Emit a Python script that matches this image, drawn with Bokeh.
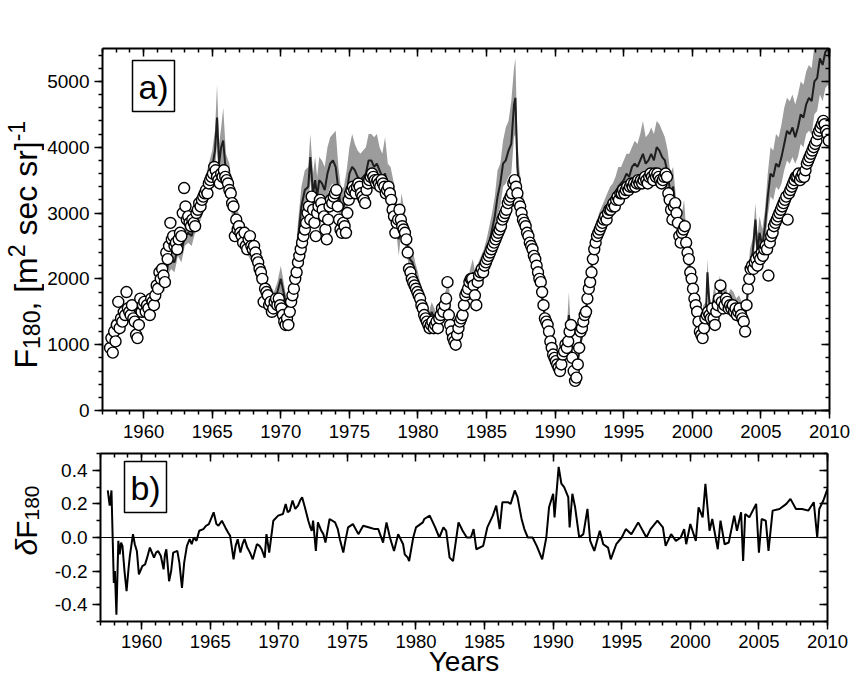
import numpy as np
from bokeh.plotting import figure
from bokeh.layouts import column, row
from bokeh.models import (LinearAxis, SingleIntervalTicker, Range1d, Label, Span,
                          CustomJSTickFormatter, BoxAnnotation)
from bokeh.embed import file_html
from bokeh.resources import INLINE

FONT = "Liberation Sans"

# ---------------- data: observed flux (open circles), sampled every 0.1 yr from 1957.55
obs_start = 1957.55
obs_step = 0.1
obs_flux = [
    950, 1100, 880, 1200, 1050,                                   # 1957
    1300, 1650, 1250, 1400, 1350, 1500, 1450, 1800, 1550, 1500,   # 1958
    1450, 1600, 1400, 1350, 1150, 1100, 1300, 1700, 1500, 1600,   # 1959
    1650, 1500, 1600, 1550, 1450, 1700, 1650, 1600, 1750, 1900,   # 1960
    1850, 2100, 2000, 2150, 2050, 1950, 2400, 2300, 2500, 2850,   # 1961
    2600, 2650, 2500, 2550, 2450, 2600, 2700, 2650, 3000, 3380,   # 1962
    3100, 2900, 2950, 2850, 2800, 2900, 2850, 2800, 3000, 3050,   # 1963
    3150, 3100, 3200, 3250, 3300, 3350, 3300, 3450, 3500, 3550,   # 1964
    3600, 3700, 3650, 3550, 3500, 3450, 3600, 3550, 3650, 3550,   # 1965
    3500, 3450, 3350, 3300, 3150, 3100, 2650, 2900, 2750, 2800,   # 1966
    2700, 2650, 2550, 2700, 2500, 2450, 2600, 2650, 2500, 2450,   # 1967
    2500, 2400, 2300, 2250, 2150, 2100, 2000, 1650, 1850, 1800,   # 1968
    1750, 1600, 1650, 1500, 1550, 1650, 1700, 1600, 1700, 1600,   # 1969
    1550, 1450, 1350, 1300, 1400, 1300, 1500, 1650, 1750, 1850,   # 1970
    2000, 2100, 2250, 2350, 2450, 2550, 2650, 2750, 2850, 3000,   # 1971
    3100, 2900, 3250, 3050, 2850, 2650, 3000, 3100, 3200, 3150,   # 1972
    3050, 2950, 2750, 2600, 2900, 3100, 3200, 3150, 3250, 3300,   # 1973
    3350, 3100, 2900, 2750, 2700, 2850, 2800, 2700, 3000, 3200,   # 1974
    3300, 3350, 3400, 3350, 3300, 3400, 3450, 3400, 3300, 3250,   # 1975
    3200, 3150, 3350, 3450, 3500, 3550, 3600, 3550, 3500, 3450,   # 1976
    3500, 3450, 3400, 3500, 3450, 3400, 3300, 3350, 3400, 3300,   # 1977
    3200, 3050, 2950, 2700, 2850, 2900, 3050, 2900, 2800, 2750,   # 1978
    2700, 2600, 2400, 2150, 2100, 2000, 1950, 1900, 1850, 1800,   # 1979
    1750, 1700, 1600, 1550, 1450, 1400, 1350, 1300, 1250, 1300,   # 1980
    1350, 1250, 1300, 1350, 1250, 1400, 1450, 1550, 1500, 1600,   # 1981
    1700, 1950, 1450, 1300, 1200, 1100, 1050, 1000, 1150, 1250,   # 1982
    1350, 1400, 1450, 1600, 1750, 1800, 1850, 1950, 2000, 2000,   # 1983
    1900, 1750, 1600, 1950, 2050, 2100, 2150, 2100, 2200, 2250,   # 1984
    2300, 2350, 2400, 2450, 2500, 2550, 2600, 2650, 2700, 2750,   # 1985
    2800, 2900, 2950, 3000, 3050, 3150, 3200, 3250, 3300, 3450,   # 1986
    3500, 3400, 3300, 3150, 3100, 3000, 2900, 2850, 2800, 2700,   # 1987
    2650, 2550, 2500, 2450, 2350, 2300, 2200, 2100, 2000, 1950,   # 1988
    1800, 1600, 1400, 1350, 1300, 1200, 1050, 950, 850, 800,      # 1989
    750, 700, 650, 600, 700, 850, 900, 1000, 950, 1050,           # 1990
    1200, 1300, 800, 600, 450, 500, 700, 950, 1200, 1250,         # 1991
    1350, 1450, 1500, 1700, 1850, 1950, 2100, 2300, 2450, 2550,   # 1992
    2650, 2700, 2750, 2800, 2850, 2900, 2950, 2900, 3000, 3050,   # 1993
    3050, 3100, 3150, 3100, 3200, 3250, 3200, 3300, 3300, 3350,   # 1994
    3300, 3350, 3400, 3350, 3400, 3450, 3400, 3450, 3400, 3450,   # 1995
    3500, 3450, 3500, 3450, 3500, 3550, 3500, 3450, 3550, 3600,   # 1996
    3550, 3500, 3600, 3550, 3600, 3550, 3500, 3450, 3500, 3550,   # 1997
    3600, 3550, 3300, 3200, 3050, 2900, 3100, 3150, 3000, 2850,   # 1998
    2650, 2550, 2700, 2750, 2800, 2550, 2400, 2300, 2100, 2000,   # 1999
    1850, 1700, 1600, 1500, 1350, 1200, 1150, 1100, 1250, 1400,   # 2000
    1450, 1500, 1450, 1400, 1550, 1400, 1300, 1500, 1600, 1700,   # 2001
    1900, 1650, 1550, 1600, 1700, 1650, 1550, 1600, 1550, 1600,   # 2002
    1500, 1550, 1450, 1500, 1550, 1450, 1400, 1350, 1200, 1600,   # 2003
    1850, 2000, 2150, 2200, 2150, 2250, 2300, 2200, 2350, 2300,   # 2004
    2400, 2350, 2450, 2500, 2450, 2050, 2550, 2650, 2700, 2800,   # 2005
    2850, 2900, 2950, 3000, 3050, 3100, 3150, 3200, 3250, 2900,   # 2006
    3300, 3350, 3400, 3450, 3500, 3550, 3550, 3600, 3500, 3550,   # 2007
    3600, 3550, 3650, 3750, 3800, 3850, 3900, 3950, 4000, 4050,   # 2008
    4100, 4200, 4250, 4300, 4350, 4400, 4350, 4250, 4200, 4100,   # 2009
]
obs_years = [round(obs_start + obs_step * i, 2) for i in range(len(obs_flux))]

# ---------------- data: model flux (dark line) and its uncertainty band (grey)
model_years = [
    1957.5, 1957.75, 1958.0, 1958.25, 1958.5, 1958.75, 1959.0, 1959.25, 1959.5, 1959.75,
    1960.0, 1960.25, 1960.5, 1960.75, 1961.0, 1961.25, 1961.5, 1961.75, 1962.0, 1962.25,
    1962.5, 1962.75, 1963.0, 1963.25, 1963.5, 1963.75, 1964.0, 1964.25, 1964.5, 1964.75,
    1965.0, 1965.2, 1965.35, 1965.5, 1965.65, 1965.8, 1966.0, 1966.25, 1966.5, 1966.75,
    1967.0, 1967.25, 1967.5, 1967.75, 1968.0, 1968.25, 1968.5, 1968.75, 1969.0, 1969.25,
    1969.5, 1969.75, 1970.0, 1970.25, 1970.5, 1970.75, 1971.0, 1971.25, 1971.5, 1971.75,
    1972.0, 1972.15, 1972.35, 1972.5, 1972.65, 1972.8, 1973.0, 1973.2, 1973.4, 1973.6,
    1973.8, 1974.0, 1974.2, 1974.4, 1974.6, 1974.8, 1975.0, 1975.2, 1975.4, 1975.6,
    1975.8, 1976.0, 1976.2, 1976.4, 1976.6, 1976.8, 1977.0, 1977.2, 1977.4, 1977.6,
    1977.8, 1978.0, 1978.2, 1978.4, 1978.6, 1978.8, 1979.0, 1979.2, 1979.4, 1979.6,
    1979.8, 1980.0, 1980.2, 1980.4, 1980.6, 1980.8, 1981.0, 1981.2, 1981.4, 1981.6,
    1981.8, 1982.0, 1982.2, 1982.4, 1982.6, 1982.8, 1983.0, 1983.2, 1983.4, 1983.6,
    1983.8, 1984.0, 1984.2, 1984.4, 1984.6, 1984.8, 1985.0, 1985.2, 1985.4, 1985.6,
    1985.8, 1986.0, 1986.2, 1986.4, 1986.6, 1986.8, 1987.0, 1987.1, 1987.25, 1987.4,
    1987.6, 1987.8, 1988.0, 1988.2, 1988.4, 1988.6, 1988.8, 1989.0, 1989.2, 1989.4,
    1989.6, 1989.8, 1990.0, 1990.2, 1990.4, 1990.6, 1990.8, 1991.0, 1991.2, 1991.4,
    1991.6, 1991.8, 1992.0, 1992.2, 1992.4, 1992.6, 1992.8, 1993.0, 1993.2, 1993.4,
    1993.6, 1993.8, 1994.0, 1994.2, 1994.4, 1994.6, 1994.8, 1995.0, 1995.2, 1995.4,
    1995.6, 1995.8, 1996.0, 1996.2, 1996.4, 1996.6, 1996.8, 1997.0, 1997.2, 1997.4,
    1997.6, 1997.8, 1998.0, 1998.2, 1998.4, 1998.6, 1998.8, 1999.0, 1999.2, 1999.4,
    1999.6, 1999.8, 2000.0, 2000.2, 2000.4, 2000.6, 2000.8, 2001.0, 2001.1, 2001.25,
    2001.4, 2001.6, 2001.8, 2002.0, 2002.2, 2002.4, 2002.6, 2002.8, 2003.0, 2003.2,
    2003.4, 2003.6, 2003.8, 2004.0, 2004.2, 2004.4, 2004.6, 2004.75, 2004.9, 2005.1,
    2005.3, 2005.5, 2005.7, 2005.9, 2006.1, 2006.3, 2006.5, 2006.7, 2006.9, 2007.1,
    2007.3, 2007.5, 2007.7, 2007.9, 2008.1, 2008.3, 2008.5, 2008.7, 2008.9, 2009.1,
    2009.3, 2009.5, 2009.7, 2009.9, 2010.0,
]
model_flux = [
    1150, 1300, 1250, 1450, 1350, 1550, 1500, 1600, 1300, 1550,
    1500, 1650, 1550, 1700, 1800, 2000, 1900, 2200, 2300, 2250,
    2500, 2400, 2650, 2700, 2650, 2850, 3000, 3150, 3350, 3500,
    3700, 3950, 4450, 3750, 4000, 4100, 3600, 3500, 3100, 2900,
    2750, 2600, 2600, 2500, 2450, 2250, 2150, 2000, 1800, 1750,
    1650, 1800, 2000, 1750, 1450, 1650, 2000, 2600, 3100, 3350,
    3400, 3850, 3300, 3500, 3250, 3500, 3450, 3350, 3600, 3750,
    3800, 3700, 3350, 3050, 3100, 3300, 3600, 3700, 3650, 3550,
    3500, 3550, 3600, 3800, 3800, 3700, 3750, 3650, 3550, 3600,
    3400, 3350, 3200, 3000, 2600, 3000, 2800, 2550, 2300, 2250,
    2050, 1900, 1750, 1600, 1450, 1350, 1500, 1400, 1300, 1450,
    1550, 1650, 1500, 1400, 1150, 1050, 1250, 1400, 1600, 1800,
    1950, 2100, 1900, 2050, 2150, 2250, 2400, 2550, 2750, 2950,
    3250, 3450, 3750, 3800, 3950, 4050, 4650, 4750, 3700, 3300,
    3050, 2850, 2700, 2550, 2350, 2150, 2000, 1800, 1500, 1200,
    1050, 900, 850, 700, 650, 850, 950, 1450, 900, 600,
    700, 950, 1200, 1450, 1750, 2100, 2400, 2650, 2800, 2900,
    3000, 3100, 3200, 3250, 3300, 3400, 3450, 3500, 3600, 3550,
    3700, 3750, 3700, 3800, 3900, 3750, 3800, 3900, 3800, 4000,
    3950, 3850, 3800, 3600, 3300, 3400, 3000, 2800, 2700, 2900,
    2400, 2200, 1900, 1600, 1350, 1200, 1450, 1500, 2100, 1600,
    1450, 1750, 1550, 1900, 1700, 1800, 1600, 1700, 1650, 1550,
    1600, 1500, 1350, 1700, 2250, 2400, 2900, 2400, 2700, 2500,
    2800, 3250, 3600, 3550, 3750, 3700, 3850, 4050, 4250, 4200,
    4300, 4150, 4300, 4500, 4450, 4650, 4750, 4700, 5000, 5050,
    5350, 5250, 5450, 5500, 5350,
]
band_low = [
    1050, 1200, 1150, 1350, 1250, 1450, 1400, 1500, 1200, 1450,
    1400, 1550, 1450, 1600, 1700, 1900, 1800, 2050, 2150, 2100,
    2350, 2250, 2500, 2550, 2500, 2700, 2800, 2950, 3100, 3250,
    3400, 3650, 4050, 3450, 3650, 3750, 3300, 3250, 2850, 2650,
    2500, 2400, 2400, 2300, 2250, 2050, 1950, 1800, 1650, 1600,
    1500, 1650, 1800, 1600, 1350, 1500, 1800, 2350, 2800, 3050,
    3100, 3500, 3000, 3150, 2950, 3150, 3100, 3000, 3250, 3400,
    3450, 3350, 3050, 2800, 2850, 3000, 3250, 3350, 3300, 3200,
    3200, 3250, 3300, 3450, 3450, 3400, 3400, 3350, 3250, 3250,
    3100, 3050, 2900, 2750, 2350, 2750, 2550, 2350, 2100, 2050,
    1850, 1750, 1600, 1450, 1300, 1250, 1350, 1300, 1200, 1300,
    1400, 1500, 1400, 1300, 1050, 950, 1150, 1300, 1450, 1650,
    1800, 1950, 1750, 1900, 2000, 2050, 2200, 2350, 2500, 2700,
    2950, 3100, 3400, 3450, 3550, 3600, 4150, 4200, 3350, 3000,
    2800, 2600, 2450, 2350, 2150, 2000, 1850, 1650, 1400, 1100,
    950, 800, 750, 600, 550, 750, 850, 1300, 800, 500,
    600, 850, 1100, 1350, 1600, 1950, 2250, 2450, 2600, 2700,
    2800, 2900, 2950, 3000, 3050, 3150, 3200, 3250, 3300, 3250,
    3400, 3400, 3400, 3450, 3500, 3400, 3450, 3500, 3450, 3600,
    3550, 3500, 3450, 3300, 3050, 3100, 2750, 2600, 2500, 2650,
    2200, 2050, 1750, 1450, 1250, 1100, 1350, 1400, 1900, 1450,
    1350, 1600, 1450, 1750, 1550, 1650, 1500, 1550, 1500, 1450,
    1450, 1400, 1250, 1550, 2050, 2200, 2600, 2200, 2450, 2300,
    2550, 2950, 3250, 3200, 3400, 3350, 3450, 3650, 3800, 3750,
    3850, 3750, 3850, 4050, 4000, 4200, 4250, 4200, 4500, 4550,
    4800, 4700, 4900, 4950, 4800,
]
band_high = [
    1250, 1400, 1350, 1550, 1450, 1650, 1600, 1700, 1400, 1650,
    1600, 1750, 1650, 1800, 1900, 2100, 2000, 2350, 2450, 2400,
    2650, 2550, 2800, 2850, 2800, 3000, 3200, 3350, 3550, 3750,
    3950, 4250, 4950, 4050, 4300, 4600, 3900, 3750, 3350, 3100,
    2950, 2800, 2800, 2700, 2650, 2450, 2300, 2150, 1950, 1900,
    1800, 1950, 2200, 1900, 1600, 1800, 2200, 2850, 3400, 3650,
    3700, 4200, 3600, 3850, 3550, 3850, 3800, 3700, 4000, 4150,
    4200, 4250, 3700, 3350, 3400, 3650, 4000, 4200, 4050, 3950,
    3900, 3950, 4000, 4200, 4200, 4150, 4200, 4000, 3900, 4150,
    3750, 3700, 3500, 3300, 2850, 3300, 3050, 2800, 2500, 2450,
    2250, 2100, 1900, 1750, 1600, 1500, 1650, 1550, 1450, 1600,
    1700, 1800, 2050, 1550, 1250, 1150, 1400, 1550, 1750, 1950,
    2150, 2300, 2050, 2250, 2350, 2450, 2600, 2800, 3000, 3250,
    3650, 3750, 4100, 4300, 4400, 4700, 5200, 5350, 4100, 3650,
    3350, 3100, 2950, 2800, 2550, 2350, 2150, 1950, 1650, 1300,
    1150, 1000, 950, 800, 750, 950, 1050, 1800, 1000, 700,
    800, 1050, 1300, 1600, 1900, 2250, 2600, 2850, 3000, 3100,
    3200, 3300, 3400, 3450, 3550, 3700, 3700, 3800, 3900, 3900,
    4000, 4100, 4050, 4200, 4400, 4150, 4200, 4300, 4200, 4400,
    4350, 4250, 4150, 3950, 3600, 3700, 3250, 3050, 2950, 3200,
    2600, 2400, 2050, 1750, 1450, 1300, 1600, 1650, 2300, 1750,
    1600, 1900, 1700, 2050, 1850, 1950, 1750, 1850, 1800, 1700,
    1750, 1650, 1450, 1850, 2450, 2600, 3150, 2650, 2950, 2750,
    3050, 3600, 4000, 3950, 4200, 4150, 4350, 4600, 4750, 4700,
    4800, 4650, 4800, 5000, 4950, 5150, 5250, 5200, 5550, 5600,
    5900, 5800, 6000, 6100, 5900,
]

# ---------------- data: relative difference (panel b)
delta_years = [
    1957.53, 1957.67, 1957.80, 1957.97, 1958.05, 1958.16, 1958.30, 1958.40, 1958.50, 1958.60,
    1958.75, 1958.90, 1959.05, 1959.14, 1959.37, 1959.50, 1959.65, 1959.80, 1960.05, 1960.25,
    1960.40, 1960.60, 1960.75, 1960.90, 1961.05, 1961.20, 1961.40, 1961.60, 1961.70, 1961.80,
    1962.00, 1962.15, 1962.30, 1962.60, 1962.75, 1962.94, 1963.10, 1963.30, 1963.50, 1963.65,
    1963.80, 1964.00, 1964.20, 1964.50, 1964.70, 1964.90, 1965.10, 1965.25, 1965.45, 1965.60,
    1965.85, 1966.10, 1966.30, 1966.45, 1966.70, 1966.85, 1967.00, 1967.20, 1967.35, 1967.50,
    1967.70, 1967.90, 1968.10, 1968.40, 1968.60, 1968.75, 1968.97, 1969.10, 1969.30, 1969.60,
    1969.95, 1970.30, 1970.50, 1970.65, 1970.80, 1971.00, 1971.20, 1971.40, 1971.55, 1971.70,
    1971.90, 1972.15, 1972.30, 1972.40, 1972.50, 1972.70, 1972.85, 1973.10, 1973.25, 1973.40,
    1973.70, 1974.10, 1974.30, 1974.45, 1974.70, 1974.85, 1975.05, 1975.40, 1975.80, 1976.15,
    1976.60, 1977.00, 1977.25, 1977.60, 1977.85, 1978.10, 1978.40, 1978.70, 1978.82, 1979.06,
    1979.18, 1979.40, 1979.50, 1979.80, 1980.00, 1980.50, 1980.60, 1981.00, 1981.40, 1981.70,
    1982.00, 1982.20, 1982.45, 1982.70, 1983.10, 1983.40, 1983.70, 1984.00, 1984.20, 1984.40,
    1984.90, 1985.20, 1985.60, 1985.85, 1986.10, 1986.30, 1986.70, 1986.90, 1987.20, 1987.40,
    1987.70, 1987.90, 1988.15, 1988.50, 1988.80, 1989.20, 1989.50, 1989.70, 1990.00, 1990.10,
    1990.40, 1990.60, 1990.80, 1991.10, 1991.20, 1991.40, 1991.60, 1991.90, 1992.20, 1992.40,
    1992.50, 1992.70, 1993.00, 1993.40, 1993.65, 1994.00, 1994.20, 1994.60, 1995.00, 1995.30,
    1995.70, 1996.20, 1996.80, 1997.10, 1997.60, 1998.00, 1998.20, 1998.60, 1998.95, 1999.30,
    1999.55, 1999.70, 2000.00, 2000.40, 2000.60, 2000.90, 2001.10, 2001.40, 2001.60, 2002.00,
    2002.20, 2002.50, 2002.80, 2003.20, 2003.40, 2003.70, 2003.85, 2004.00, 2004.30, 2004.80,
    2005.00, 2005.20, 2005.50, 2005.70, 2006.00, 2006.50, 2007.00, 2007.30, 2007.70, 2008.15,
    2008.60, 2009.00, 2009.25, 2009.40, 2009.70, 2010.00,
]
delta_flux = [
    0.28, 0.19, 0.28, -0.27, -0.20, -0.46, -0.02, -0.10, -0.03, -0.05,
    -0.20, -0.32, -0.18, -0.11, 0.02, -0.04, -0.08, -0.22, -0.17, -0.16,
    -0.12, -0.06, -0.09, -0.12, -0.09, -0.08, -0.11, -0.19, -0.10, -0.07,
    -0.26, -0.20, -0.09, -0.08, -0.15, -0.30, -0.15, -0.05, -0.01, -0.04,
    0.00, -0.02, 0.04, 0.05, 0.07, 0.08, 0.12, 0.15, 0.08, 0.07,
    0.10, 0.06, 0.03, 0.01, -0.13, -0.05, -0.01, -0.09, -0.04, -0.01,
    -0.06, -0.09, -0.13, -0.04, -0.05, -0.07, -0.12, 0.02, -0.09, 0.10,
    0.13, 0.14, 0.20, 0.15, 0.16, 0.22, 0.17, 0.19, 0.22, 0.24,
    0.18, 0.10, 0.06, 0.04, 0.10, -0.08, 0.09, 0.04, 0.02, -0.03,
    0.11, 0.09, 0.05, -0.01, -0.09, -0.02, 0.06, 0.08, 0.02, 0.07,
    0.06, 0.05, 0.05, -0.03, 0.09, 0.00, -0.08, 0.02, 0.00, -0.04,
    -0.10, -0.12, -0.14, 0.00, 0.06, 0.09, 0.11, 0.13, 0.06, 0.00,
    0.06, 0.04, -0.12, -0.14, 0.09, 0.04, 0.00, 0.00, 0.05, -0.07,
    -0.05, 0.06, 0.13, 0.19, 0.05, 0.21, 0.21, 0.20, 0.28, 0.24,
    0.11, 0.05, 0.00, 0.00, -0.05, -0.13, 0.00, 0.18, 0.26, 0.12,
    0.42, 0.32, 0.30, 0.24, 0.06, 0.26, 0.18, 0.00, 0.02, 0.12,
    0.17, -0.02, -0.08, 0.04, -0.04, -0.06, -0.13, -0.04, 0.00, 0.05,
    0.02, 0.09, 0.00, 0.05, 0.10, 0.06, -0.05, 0.02, -0.02, 0.00,
    0.05, -0.04, 0.08, -0.02, 0.18, 0.12, 0.32, 0.04, 0.11, -0.07,
    0.10, -0.04, -0.03, 0.13, 0.04, 0.15, -0.14, 0.14, 0.12, 0.20,
    -0.09, 0.11, 0.10, -0.08, 0.16, 0.17, 0.20, 0.23, 0.17, 0.17,
    0.16, 0.21, 0.00, 0.17, 0.22, 0.29,
]

# ---------------- axis titles, composed of pieces:
# (text, font px, baseline shift px (+ = subscript side), style, gap before in em)
TOP_TITLE = [("F", 32, 0, "normal", 0), ("180", 23, 3, "normal", 0),
             (", [m", 32, 0, "normal", 0), ("2", 23, -12, "normal", 0),
             ("sec sr]", 32, 0, "normal", 0.278), ("-1", 23, -12, "normal", 0)]
BOTTOM_TITLE = [("\u03b4", 30, 0, "italic", 0), ("F", 30, 0, "normal", 0),
                ("180", 21, 3, "normal", 0)]

# Arial / Liberation Sans advance widths (per 1000 em)
ADV = {"F": 611, "1": 556, "8": 556, "0": 556, ",": 278, " ": 278, "[": 278, "]": 278,
       "m": 833, "2": 556, "s": 500, "e": 556, "c": 500, "r": 333, "-": 333, "\u03b4": 556}
MID_TO_BASELINE = 0.34   # distance (em) from the middle of a text line to its baseline


def text_width(t, size):
    return sum(ADV.get(ch, 556) for ch in t) * size / 1000.0


def title_strip(width, height, pieces, baseline_x, start_above_frame_bottom, frame_top,
                frame_h):
    """Narrow axis-less canvas that carries a vertical, composed axis title.
    Its frame lines up with the neighbouring plot frame. Each piece is centred."""
    f = figure(width=width, height=height, min_border=0, min_border_top=frame_top,
               min_border_bottom=height - frame_top - frame_h,
               x_axis_type=None, y_axis_type=None,
               x_range=Range1d(0, 1), y_range=Range1d(0, 1),
               output_backend="svg", toolbar_location=None)
    f.outline_line_color = None
    f.background_fill_color = "white"
    f.border_fill_color = "white"
    along = start_above_frame_bottom
    for text, size, shift, style, gap in pieces:
        along += gap * size
        w = text_width(text, size)
        f.add_layout(Label(x=baseline_x + shift - MID_TO_BASELINE * size, y=along + w / 2,
                           x_units="screen", y_units="screen",
                           text=text, angle=np.pi / 2, text_align="center",
                           text_baseline="middle", text_font=FONT,
                           text_font_size=f"{size}px", text_font_style=style,
                           text_color="black"))
        along += w
    return f


def style_axis(ax, ticker, outward=True, standoff=5, label_size="19px"):
    ax.ticker = ticker
    ax.axis_line_width = 2
    ax.axis_line_color = "black"
    ax.major_tick_line_width = 1.5
    ax.minor_tick_line_width = 1.5
    ax.major_tick_line_color = "black"
    ax.minor_tick_line_color = "black"
    if outward:
        ax.major_tick_in, ax.major_tick_out = 0, 8
        ax.minor_tick_in, ax.minor_tick_out = 0, 4
        ax.major_label_text_font = FONT
        ax.major_label_text_font_size = label_size
        ax.major_label_text_color = "black"
        ax.major_label_standoff = standoff
    else:
        ax.major_tick_in, ax.major_tick_out = 8, 0
        ax.minor_tick_in, ax.minor_tick_out = 4, 0
        ax.major_label_text_font_size = "0px"
        ax.major_label_standoff = 0
        ax.formatter = CustomJSTickFormatter(code="return ''")


FRAME_W = 727
RIGHT_B = 23


def base_fig(yr, fh, left, top, bottom):
    p = figure(frame_width=FRAME_W, frame_height=fh, x_range=Range1d(1957, 2010), y_range=yr,
               output_backend="svg", toolbar_location=None,
               min_border_left=left, min_border_right=RIGHT_B, min_border_top=top,
               min_border_bottom=bottom)
    p.grid.visible = False
    p.outline_line_color = None
    p.background_fill_color = "white"
    p.border_fill_color = "white"
    return p


def add_mirrors(p, xt, yt):
    a = LinearAxis()
    style_axis(a, xt, outward=False)
    p.add_layout(a, "above")
    r = LinearAxis()
    style_axis(r, yt, outward=False)
    p.add_layout(r, "right")


def add_tag(p, text, left, bottom):
    p.add_layout(BoxAnnotation(left=left, right=left + 42, bottom=bottom, top=bottom + 51,
                               left_units="screen", right_units="screen",
                               bottom_units="screen", top_units="screen",
                               fill_color="white", fill_alpha=1.0,
                               line_color="black", line_alpha=1.0, line_width=1.5))
    p.add_layout(Label(x=left + 21, y=bottom + 25, x_units="screen", y_units="screen",
                       text=text, text_align="center", text_baseline="middle",
                       text_font=FONT, text_font_size="34px", text_color="black"))


STRIP_W = 44
XLABEL = "18.5px"

# ---------------- panel a
p1 = base_fig(Range1d(0, 5500), 362, 100 - STRIP_W, 48, 35)
xa1, ya1 = p1.xaxis[0], p1.yaxis[0]
style_axis(xa1, SingleIntervalTicker(interval=5, num_minor_ticks=5), standoff=6,
           label_size=XLABEL)
style_axis(ya1, SingleIntervalTicker(interval=1000, num_minor_ticks=5))
add_mirrors(p1, SingleIntervalTicker(interval=5, num_minor_ticks=5),
            SingleIntervalTicker(interval=1000, num_minor_ticks=5))

p1.varea(x=model_years, y1=band_low, y2=band_high, fill_color="#9c9c9c", fill_alpha=1.0)
p1.line(model_years, model_flux, line_color="#1e1e1e", line_width=2)
p1.scatter(obs_years, obs_flux, marker="circle", size=11, fill_color="white",
           line_color="black", line_width=1.4)
add_tag(p1, "a)", 30, 299)
t1 = title_strip(STRIP_W, 48 + 362 + 35, TOP_TITLE, baseline_x=36,
                 start_above_frame_bottom=42, frame_top=48, frame_h=362)

# ---------------- panel b
p2 = base_fig(Range1d(-0.5, 0.5), 168, 100 - STRIP_W, 8, 61)
xa2, ya2 = p2.xaxis[0], p2.yaxis[0]
style_axis(xa2, SingleIntervalTicker(interval=5, num_minor_ticks=5), standoff=5,
           label_size=XLABEL)
style_axis(ya2, SingleIntervalTicker(interval=0.2, num_minor_ticks=2))
ya2.formatter = CustomJSTickFormatter(
    code="return (Math.abs(tick) < 1e-9 ? 0 : tick).toFixed(1);")
xa2.axis_label = "Years"
xa2.axis_label_text_font = FONT
xa2.axis_label_text_font_size = "28px"
xa2.axis_label_text_font_style = "normal"
xa2.axis_label_text_color = "black"
xa2.axis_label_standoff = -5
add_mirrors(p2, SingleIntervalTicker(interval=5, num_minor_ticks=5),
            SingleIntervalTicker(interval=0.2, num_minor_ticks=2))

p2.add_layout(Span(location=0, dimension="width", line_color="black", line_width=1))
p2.line(delta_years, delta_flux, line_color="black", line_width=2)
add_tag(p2, "b)", 24, 109)
t2 = title_strip(STRIP_W, 8 + 168 + 61, BOTTOM_TITLE, baseline_x=36,
                 start_above_frame_bottom=66, frame_top=8, frame_h=168)

layout = column(row(t1, p1), row(t2, p2))
open("out.html", "w").write(file_html(layout, INLINE))
